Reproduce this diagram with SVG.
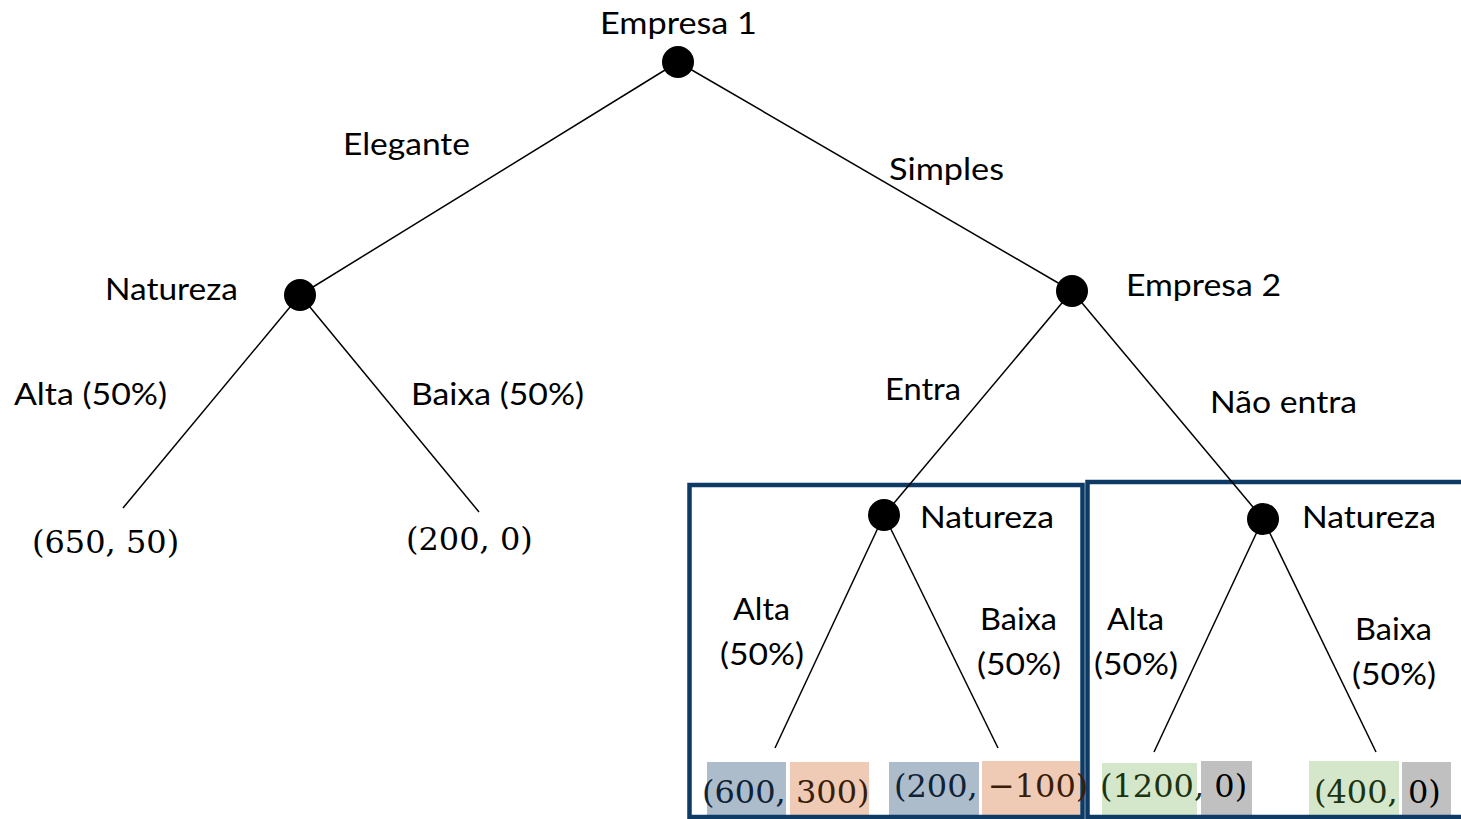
<svg xmlns="http://www.w3.org/2000/svg" width="1461" height="819" viewBox="0 0 1461 819">
  <style>
    .edge { stroke: #000; stroke-width: 1.5; fill: none; }
    .dot { fill: #000; }
    .lbl { font-family: Lato, "Noto Sans", sans-serif; font-size: 31.5px; fill: #000; }
    .math { font-family: "DejaVu Serif", "Liberation Serif", serif; font-size: 32px; fill: #000; }
    .frame { fill: none; stroke: #0d3b66; stroke-width: 4.5; }
  </style>

  <rect width="1461" height="819" fill="#fff"/>

  <!-- payoff highlight bands -->
  <g id="highlights">
    <rect x="707" y="762" width="79" height="57" fill="#adbccb"/>
    <rect x="790" y="762" width="79" height="57" fill="#efcbb5"/>
    <rect x="889" y="762" width="90" height="57" fill="#adbccb"/>
    <rect x="982" y="761" width="98" height="54" fill="#efcbb5"/>
    <rect x="1102" y="763" width="95" height="56" fill="#d5e7cb"/>
    <rect x="1201" y="761" width="51" height="55" fill="#c0c0c0"/>
    <rect x="1309" y="761" width="90" height="58" fill="#d5e7cb"/>
    <rect x="1402" y="762" width="49" height="54" fill="#c0c0c0"/>
  </g>

  <!-- subgame frames -->
  <g id="frames">
    <rect class="frame" x="689.5" y="485" width="393" height="332"/>
    <rect class="frame" x="1087.5" y="482" width="400" height="335"/>
  </g>

  <g id="connectors">
    <line class="edge" x1="678" y1="62" x2="300" y2="295"/>
    <line class="edge" x1="678" y1="62" x2="1072" y2="291"/>
    <line class="edge" x1="300" y1="295" x2="123" y2="508"/>
    <line class="edge" x1="300" y1="295" x2="479" y2="512"/>
    <line class="edge" x1="1072" y1="291" x2="884" y2="515"/>
    <line class="edge" x1="1072" y1="291" x2="1263" y2="519"/>
    <line class="edge" x1="884" y1="515" x2="775" y2="748"/>
    <line class="edge" x1="884" y1="515" x2="998" y2="748"/>
    <line class="edge" x1="1263" y1="519" x2="1154" y2="752"/>
    <line class="edge" x1="1263" y1="519" x2="1376" y2="752"/>
  </g>

  <g id="empresa1">
    <circle class="dot" cx="678" cy="62" r="16"/>
    <text class="lbl" x="600" y="34" textLength="157" lengthAdjust="spacingAndGlyphs">Empresa 1</text>
  </g>

  <g id="natureza-elegante">
    <circle class="dot" cx="300" cy="295" r="16"/>
    <text class="lbl" x="105" y="300" textLength="133" lengthAdjust="spacingAndGlyphs">Natureza</text>
  </g>

  <g id="empresa2">
    <circle class="dot" cx="1072" cy="291" r="16"/>
    <text class="lbl" x="1126" y="296" textLength="155" lengthAdjust="spacingAndGlyphs">Empresa 2</text>
  </g>

  <g id="natureza-entra">
    <circle class="dot" cx="884" cy="515" r="16"/>
    <text class="lbl" x="920" y="528" textLength="134" lengthAdjust="spacingAndGlyphs">Natureza</text>
  </g>

  <g id="natureza-naoentra">
    <circle class="dot" cx="1263" cy="519" r="16"/>
    <text class="lbl" x="1302" y="528" textLength="134" lengthAdjust="spacingAndGlyphs">Natureza</text>
  </g>

  <g id="edge-labels">
    <text class="lbl" x="343" y="155" textLength="127" lengthAdjust="spacingAndGlyphs">Elegante</text>
    <text class="lbl" x="889" y="180" textLength="115" lengthAdjust="spacingAndGlyphs">Simples</text>
    <text class="lbl" x="14" y="405" textLength="153" lengthAdjust="spacingAndGlyphs">Alta (50%)</text>
    <text class="lbl" x="411" y="405" textLength="173" lengthAdjust="spacingAndGlyphs">Baixa (50%)</text>
    <text class="lbl" x="885" y="400" textLength="76" lengthAdjust="spacingAndGlyphs">Entra</text>
    <text class="lbl" x="1210" y="413" textLength="147" lengthAdjust="spacingAndGlyphs">Não entra</text>
    <text class="lbl" x="733" y="620" textLength="57" lengthAdjust="spacingAndGlyphs">Alta</text>
    <text class="lbl" x="720" y="665" textLength="84" lengthAdjust="spacingAndGlyphs">(50%)</text>
    <text class="lbl" x="980" y="630" textLength="77" lengthAdjust="spacingAndGlyphs">Baixa</text>
    <text class="lbl" x="977" y="675" textLength="84" lengthAdjust="spacingAndGlyphs">(50%)</text>
    <text class="lbl" x="1107" y="630" textLength="57" lengthAdjust="spacingAndGlyphs">Alta</text>
    <text class="lbl" x="1094" y="675" textLength="84" lengthAdjust="spacingAndGlyphs">(50%)</text>
    <text class="lbl" x="1355" y="640" textLength="77" lengthAdjust="spacingAndGlyphs">Baixa</text>
    <text class="lbl" x="1352" y="685" textLength="84" lengthAdjust="spacingAndGlyphs">(50%)</text>
  </g>

  <g id="payoffs">
    <text class="math" x="32" y="553">(650, 50)</text>
    <text class="math" x="406" y="550">(200, 0)</text>
    <text class="math" x="702" y="803"><tspan fill="#0f2236">(600,</tspan><tspan fill="#3a1d09"> 300)</tspan></text>
    <text class="math" x="894" y="797"><tspan fill="#0f2236">(200,</tspan><tspan fill="#3a1d09"> −100)</tspan></text>
    <text class="math" x="1100" y="797"><tspan fill="#1c3310">(1200,</tspan><tspan fill="#000"> 0)</tspan></text>
    <text class="math" x="1314" y="803"><tspan fill="#1c3310">(400,</tspan><tspan fill="#000"> 0)</tspan></text>
  </g>
</svg>
